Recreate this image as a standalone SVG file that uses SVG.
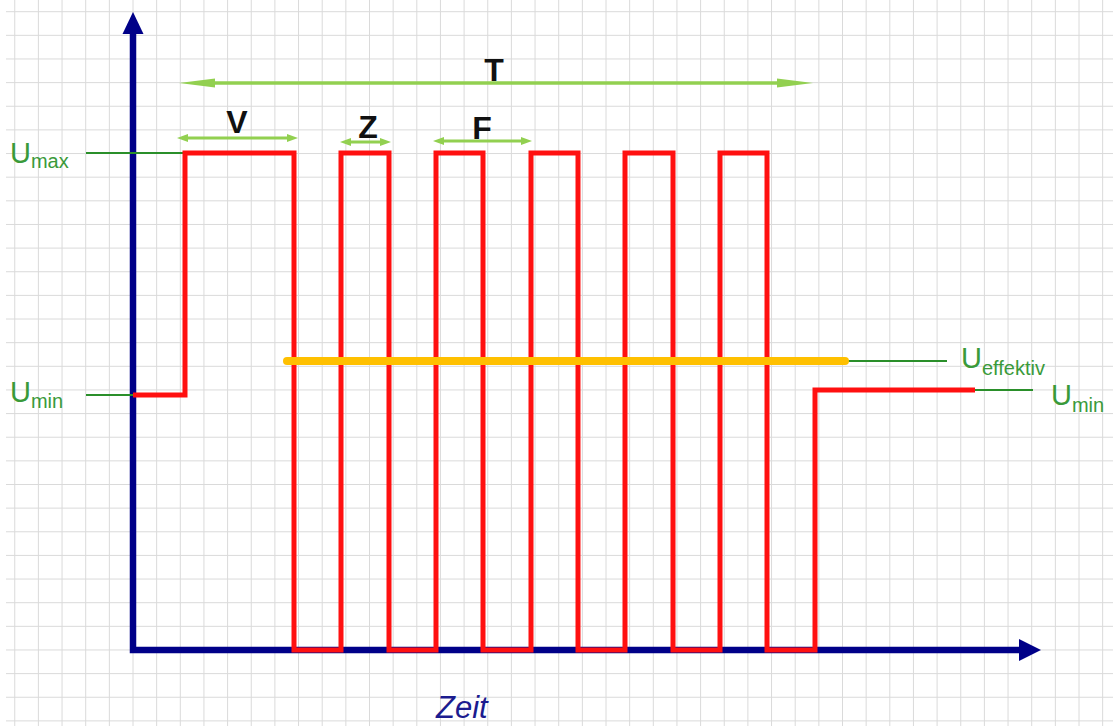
<svg xmlns="http://www.w3.org/2000/svg" width="1120" height="726" viewBox="0 0 1120 726">
  <style>
    .grid { stroke: #dadada; stroke-width: 1; fill: none; }
    .axis { stroke: #000088; stroke-width: 6.5; fill: none; stroke-linejoin: miter; }
    .axishead { fill: #000088; }
    .wave { stroke: #ff1010; stroke-width: 5; fill: none; stroke-linejoin: miter; }
    .eff { stroke: #ffc000; stroke-width: 8; fill: none; }
    .lead { stroke: #2a8f2a; stroke-width: 2.2; fill: none; }
    .dim { stroke: #92d050; fill: none; }
    .ulabel { font-family: "Liberation Sans", Arial, sans-serif; fill: #3a9a3a; font-size: 29px; }
    .sub { font-size: 20px; }
    .letter { font-family: "Liberation Sans", Arial, sans-serif; font-weight: bold; font-size: 32px; fill: #111111; text-anchor: middle; }
    .zeit { font-family: "Liberation Sans", Arial, sans-serif; font-style: italic; font-size: 31px; fill: #1c1c8f; }
  </style>
  <defs>
    <marker id="bighead" markerUnits="userSpaceOnUse" orient="auto-start-reverse" refX="20" refY="0" markerWidth="40" markerHeight="12" overflow="visible">
      <path d="M0,-4.5 L36,0 L0,4.5 z" fill="#92d050"/>
    </marker>
    <marker id="smallhead" markerUnits="userSpaceOnUse" orient="auto-start-reverse" refX="5" refY="0" markerWidth="12" markerHeight="10" overflow="visible">
      <path d="M0,-4 L11,0 L0,4 z" fill="#92d050"/>
    </marker>
  </defs>
  <rect x="0" y="0" width="1120" height="726" fill="#ffffff"/>

  <g id="grid" class="grid">
    <path d="M14.75 0V726M38.4 0V726M62.05 0V726M85.7 0V726M109.35 0V726M133 0V726M156.65 0V726M180.3 0V726M203.95 0V726M227.6 0V726M251.25 0V726M274.9 0V726M298.55 0V726M322.2 0V726M345.85 0V726M369.5 0V726M393.15 0V726M416.8 0V726M440.45 0V726M464.1 0V726M487.75 0V726M511.4 0V726M535.05 0V726M558.7 0V726M582.35 0V726M606 0V726M629.65 0V726M653.3 0V726M676.95 0V726M700.6 0V726M724.25 0V726M747.9 0V726M771.55 0V726M795.2 0V726M818.85 0V726M842.5 0V726M866.15 0V726M889.8 0V726M913.45 0V726M937.1 0V726M960.75 0V726M984.4 0V726M1008.05 0V726M1031.7 0V726M1055.35 0V726M1079 0V726M1102.65 0V726"/>
    <path d="M6 11.7H1113M6 35.34H1113M6 58.98H1113M6 82.62H1113M6 106.26H1113M6 129.9H1113M6 153.54H1113M6 177.18H1113M6 200.82H1113M6 224.46H1113M6 248.1H1113M6 271.74H1113M6 295.38H1113M6 319.02H1113M6 342.66H1113M6 366.3H1113M6 389.94H1113M6 413.58H1113M6 437.22H1113M6 460.86H1113M6 484.5H1113M6 508.14H1113M6 531.78H1113M6 555.42H1113M6 579.06H1113M6 602.7H1113M6 626.34H1113M6 649.98H1113M6 673.62H1113M6 697.26H1113M6 720.9H1113"/>
  </g>

  <g id="axes">
    <path class="axis" d="M133 32 V650 H1021"/>
    <polygon class="axishead" points="133,12 122.5,34 143.5,34"/>
    <polygon class="axishead" points="1041,650 1019,639 1019,661"/>
  </g>

  <g id="connectors">
    <line class="lead" x1="86" y1="153" x2="185" y2="153"/>
    <line class="lead" x1="86" y1="395" x2="133" y2="395"/>
    <line class="lead" x1="845" y1="361" x2="947" y2="361"/>
    <line class="lead" x1="975" y1="390" x2="1033" y2="390"/>
    <line id="arrow-T" class="dim" stroke-width="3.5" x1="195" y1="83" x2="797" y2="83" marker-start="url(#bighead)" marker-end="url(#bighead)"/>
    <line id="arrow-V" class="dim" stroke-width="3" x1="183" y1="138" x2="292" y2="138" marker-start="url(#smallhead)" marker-end="url(#smallhead)"/>
    <line id="arrow-Z" class="dim" stroke-width="3" x1="346" y1="142" x2="385" y2="142" marker-start="url(#smallhead)" marker-end="url(#smallhead)"/>
    <line id="arrow-F" class="dim" stroke-width="3" x1="439" y1="141" x2="526" y2="141" marker-start="url(#smallhead)" marker-end="url(#smallhead)"/>
  </g>

  <g id="waveform">
    <path class="wave" d="M133 395 H185 V153 H294 V650 H341 V153 H389 V650 H436 V153 H483 V650 H531 V153 H578 V650 H625 V153 H673 V650 H720 V153 H767 V650 H815 V390 H975"/>
  </g>

  <g id="effective-line">
    <line class="eff" x1="287" y1="361" x2="845" y2="361" stroke-linecap="round"/>
  </g>

  <g id="label-Umax">
    <text class="ulabel" x="10" y="163">U<tspan class="sub" dy="5">max</tspan></text>
  </g>
  <g id="label-Umin-left">
    <text class="ulabel" x="10" y="402">U<tspan class="sub" dy="6">min</tspan></text>
  </g>
  <g id="label-Ueffektiv">
    <text class="ulabel" x="961" y="368">U<tspan class="sub" dy="7">effektiv</tspan></text>
  </g>
  <g id="label-Umin-right">
    <text class="ulabel" x="1051" y="405">U<tspan class="sub" dy="7">min</tspan></text>
  </g>

  <g id="label-T"><text class="letter" x="494" y="81">T</text></g>
  <g id="label-V"><text class="letter" x="237" y="133">V</text></g>
  <g id="label-Z"><text class="letter" x="368" y="138">Z</text></g>
  <g id="label-F"><text class="letter" x="482" y="139">F</text></g>

  <g id="label-Zeit"><text class="zeit" x="436" y="718">Zeit</text></g>
</svg>
